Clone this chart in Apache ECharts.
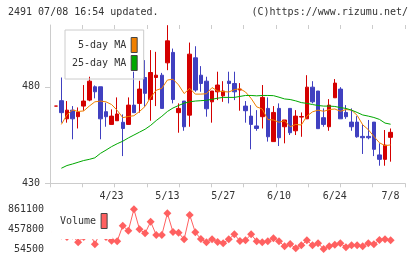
<!DOCTYPE html>
<html>
<head>
<meta charset="utf-8">
<script src="https://cdn.jsdelivr.net/npm/echarts@6/dist/echarts.min.js"></script>
<style>
  html, body { margin: 0; padding: 0; background: #fff; }
  #main { width: 420px; height: 259px; }
</style>
</head>
<body>
<div id="main"></div>
<script>
// trading days shown on the chart
const dates = ['4/9', '4/10', '4/11', '4/12', '4/15', '4/16', '4/17', '4/18', '4/19', '4/22',
    '4/23', '4/24', '4/25', '4/26', '4/30', '5/1', '5/2', '5/7', '5/8', '5/9',
    '5/13', '5/14', '5/15', '5/16', '5/17', '5/20', '5/21', '5/22', '5/23', '5/24',
    '5/27', '5/28', '5/29', '5/30', '5/31', '6/3', '6/4', '6/5', '6/6', '6/7',
    '6/10', '6/11', '6/12', '6/13', '6/14', '6/17', '6/18', '6/19', '6/20', '6/21',
    '6/24', '6/25', '6/26', '6/27', '6/28', '7/1', '7/2', '7/3', '7/4', '7/5', '7/8'];
const tickLabels = ['4/23', '5/13', '5/27', '6/10', '6/24', '7/8'];

const opens = [470.0, 472.8, 463.4, 467.9, 464.5, 470.0, 473.1, 480.0, 480.0, 467.1,
    460.5, 462.4, 461.6, 460.5, 470.5, 471.4, 484.8, 473.4, 484.8, 486.0,
    492.4, 497.8, 466.6, 472.6, 465.3, 495.0, 486.0, 482.9, 472.2, 477.4,
    475.3, 482.9, 481.7, 478.3, 470.0, 464.8, 459.7, 464.5, 468.8, 451.6,
    468.8, 459.3, 468.8, 457.2, 464.3, 463.4, 479.8, 477.8, 464.0, 459.3,
    474.3, 478.8, 466.7, 461.7, 461.7, 454.3, 454.3, 461.7, 444.7, 442.4, 453.8];
const closes = [470.0, 466.6, 467.9, 463.4, 466.9, 472.6, 482.9, 477.4, 463.4, 464.5,
    464.8, 465.9, 458.4, 470.5, 466.6, 478.8, 476.6, 487.4, 486.0, 468.8,
    503.8, 473.4, 468.8, 459.3, 496.9, 478.3, 481.7, 468.6, 477.8, 480.9,
    477.8, 481.7, 477.4, 478.8, 467.6, 460.5, 458.4, 474.5, 454.1, 466.7,
    453.6, 462.8, 456.2, 464.8, 464.6, 479.8, 472.2, 458.3, 460.5, 470.5,
    481.9, 463.4, 464.5, 459.3, 454.1, 453.6, 453.6, 447.6, 442.4, 449.8, 456.4];
const lows = [470.0, 461.4, 461.4, 452.8, 458.4, 467.6, 472.5, 474.0, 452.8, 459.3,
    460.5, 462.4, 444.1, 460.5, 466.6, 466.6, 469.7, 462.4, 470.0, 468.8,
    488.6, 471.4, 456.2, 457.2, 459.3, 477.4, 477.4, 464.5, 461.4, 473.1,
    472.2, 471.4, 473.1, 467.6, 461.4, 447.6, 457.2, 458.4, 451.6, 451.6,
    449.3, 450.7, 455.0, 455.0, 454.1, 463.4, 471.4, 458.3, 459.3, 457.2,
    474.3, 463.4, 463.4, 457.2, 453.6, 445.2, 452.8, 444.1, 439.1, 439.1, 441.2];
const highs = [470.0, 484.8, 472.6, 470.0, 469.3, 480.9, 485.2, 480.7, 480.0, 471.7,
    468.3, 474.5, 465.7, 474.5, 487.8, 483.1, 493.8, 499.0, 498.1, 487.2,
    511.9, 499.8, 471.4, 472.6, 502.9, 501.0, 490.7, 485.2, 477.8, 487.8,
    482.9, 487.8, 487.8, 481.9, 472.6, 470.5, 467.9, 480.9, 474.5, 470.0,
    471.4, 462.8, 468.8, 467.9, 466.7, 486.0, 482.9, 477.8, 468.8, 473.6,
    484.0, 479.8, 470.5, 468.8, 464.8, 460.5, 462.8, 461.7, 450.7, 457.6, 458.4];

const ma5 = [null, 460.5, 465.5, 468.0, 467.2, 467.5, 470.0, 472.2, 472.6, 472.2,
    470.8, 467.8, 464.0, 464.6, 465.0, 467.2, 469.8, 474.5, 478.2, 479.2,
    483.5, 483.9, 481.0, 476.5, 479.2, 476.2, 476.2, 476.4, 479.6, 477.8,
    477.5, 477.3, 478.5, 479.0, 477.3, 474.0, 469.6, 468.5, 463.0, 462.8,
    461.6, 462.4, 459.3, 460.5, 460.2, 464.8, 467.0, 467.9, 467.3, 468.2,
    468.5, 467.3, 468.2, 467.9, 465.2, 460.3, 457.8, 454.3, 451.0, 449.5, 449.9];
const ma25 = [null, 437.8, 439.2, 440.0, 440.9, 441.8, 442.4, 443.2, 445.5, 447.2,
    449.0, 450.5, 451.8, 453.5, 455.0, 456.5, 458.0, 460.0, 462.5, 464.7,
    467.2, 469.0, 470.3, 471.5, 472.2, 472.6, 472.8, 473.0, 473.5, 474.1,
    474.5, 474.5, 474.5, 475.0, 475.5, 475.5, 475.3, 475.5, 475.5, 475.4,
    474.6, 473.7, 473.4, 472.7, 471.8, 471.4, 470.8, 470.3, 470.0, 470.0,
    469.8, 469.2, 468.8, 467.9, 466.7, 465.4, 464.8, 464.1, 463.1, 461.2, 460.6];

const volumes = [400000, 330000, 300000, 330000, 190600, 300000, 420000, 150000, 400000, 300000,
    223100, 211000, 528000, 426300, 861100, 454800, 373500, 609200, 339000, 339000,
    779800, 399900, 385700, 251600, 745300, 393800, 257700, 190600, 251600, 196700,
    170300, 251600, 353200, 217000, 231300, 353200, 211000, 190600, 211000, 271900,
    211000, 109400, 156100, 70000, 129700, 231300, 129700, 170300, 54500, 109400,
    141900, 170300, 89000, 129700, 129700, 109400, 170300, 150000, 237400, 251600, 231300];

const priceTicks = [430, 480];
const volumeTicks = [54500, 457800, 861100];

const FONT = 'DejaVu Sans Mono';
const TEXT = '#333';
const AXIS = '#ccc';
const UP = '#d40000';
const DOWN = '#4040c0';

const candles = opens.map((o, i) => [o, closes[i], lows[i], highs[i]]);

const chart = echarts.init(document.getElementById('main'), null, { renderer: 'canvas' });

const labelStyle = { color: TEXT, fontFamily: FONT, fontSize: 10 };

chart.setOption({
    animation: false,
    backgroundColor: '#fff',
    title: [
        { text: '2491 07/08 16:54 updated.', left: 8, top: 7, padding: 0,
          textStyle: { color: TEXT, fontFamily: FONT, fontSize: 10, fontWeight: 'normal' } },
        { text: '(C)https://www.rizumu.net/', right: 12, top: 7, padding: 0,
          textStyle: { color: TEXT, fontFamily: FONT, fontSize: 10, fontWeight: 'normal' } }
    ],
    legend: [
        {
            data: ['5-day MA', '25-day MA'],
            orient: 'vertical', left: 65, top: 30, align: 'right',
            icon: 'rect', itemWidth: 6, itemHeight: 15, itemGap: 2,
            padding: [7, 6, 8, 7],
            borderColor: AXIS, borderWidth: 1,
            itemStyle: { borderColor: '#444', borderWidth: 1 },
            textStyle: labelStyle, selectedMode: false
        },
        {
            data: ['Volume'],
            left: 52, top: 205, align: 'right',
            icon: 'rect', itemWidth: 6, itemHeight: 15,
            padding: [8, 5, 10, 8],
            backgroundColor: '#fff', z: 10,
            itemStyle: { borderColor: '#444', borderWidth: 1 },
            textStyle: labelStyle, selectedMode: false
        }
    ],
    grid: [
        { left: 50, right: 15, top: 25, bottom: 75.7 },
        { left: 53, right: 26.6, top: 25, bottom: 75.7 },
        { left: 53, right: 26.6, top: 209.3, bottom: 10 }
    ],
    xAxis: [
        { gridIndex: 0, type: 'value', min: 0, max: 11, interval: 1,
          axisLine: { lineStyle: { color: AXIS } },
          axisTick: { length: 4, lineStyle: { color: AXIS } },
          axisLabel: { show: false }, splitLine: { show: false } },
        { gridIndex: 0, type: 'value', min: 0, max: 11, interval: 1,
          axisLine: { show: false },
          axisTick: { inside: true, length: 4, lineStyle: { color: AXIS } },
          axisLabel: { show: false }, splitLine: { show: false } },
        { gridIndex: 1, type: 'category', data: dates, boundaryGap: true,
          axisLine: { show: false }, axisTick: { show: false },
          axisLabel: Object.assign({ margin: 8,
              interval: (idx, val) => tickLabels.indexOf(val) >= 0 }, labelStyle),
          splitLine: { show: false } },
        { gridIndex: 2, type: 'category', data: dates, boundaryGap: true, show: false }
    ],
    yAxis: [
        { gridIndex: 0, type: 'value', min: 430, max: 512,
          axisLine: { show: true, lineStyle: { color: AXIS } },
          axisTick: { show: true, length: 5, customValues: priceTicks, lineStyle: { color: AXIS } },
          axisLabel: Object.assign({ margin: 10, customValues: priceTicks,
              formatter: v => String(v) }, labelStyle),
          splitLine: { show: false } },
        { gridIndex: 1, type: 'value', min: 430, max: 512, show: false, splitLine: { show: false } },
        { gridIndex: 2, type: 'value', min: 54500, max: 861100,
          axisLine: { show: false }, axisTick: { show: false },
          axisLabel: Object.assign({ margin: 9, customValues: volumeTicks,
              formatter: v => String(v) }, labelStyle),
          splitLine: { show: false } }
    ],
    series: [
        {
            name: 'price', type: 'candlestick', xAxisIndex: 2, yAxisIndex: 1,
            data: candles, barWidth: 4,
            itemStyle: { color: UP, color0: DOWN, borderColor: UP, borderColor0: DOWN, borderWidth: 1 }
        },
        {
            name: '5-day MA', type: 'line', xAxisIndex: 2, yAxisIndex: 1,
            data: ma5, showSymbol: false, symbol: 'none', color: '#f08000',
            lineStyle: { width: 1, color: '#f08000' }
        },
        {
            name: '25-day MA', type: 'line', xAxisIndex: 2, yAxisIndex: 1,
            data: ma25, showSymbol: false, symbol: 'none', color: '#00a800',
            lineStyle: { width: 1, color: '#00a800' }
        },
        {
            name: 'Volume', type: 'line', xAxisIndex: 3, yAxisIndex: 2,
            data: volumes, symbol: 'diamond', symbolSize: 8, showAllSymbol: true,
            color: '#ff6060',
            lineStyle: { width: 1, color: '#ff6060' },
            itemStyle: { color: '#ff6060' }
        }
    ]
});
</script>
</body>
</html>
